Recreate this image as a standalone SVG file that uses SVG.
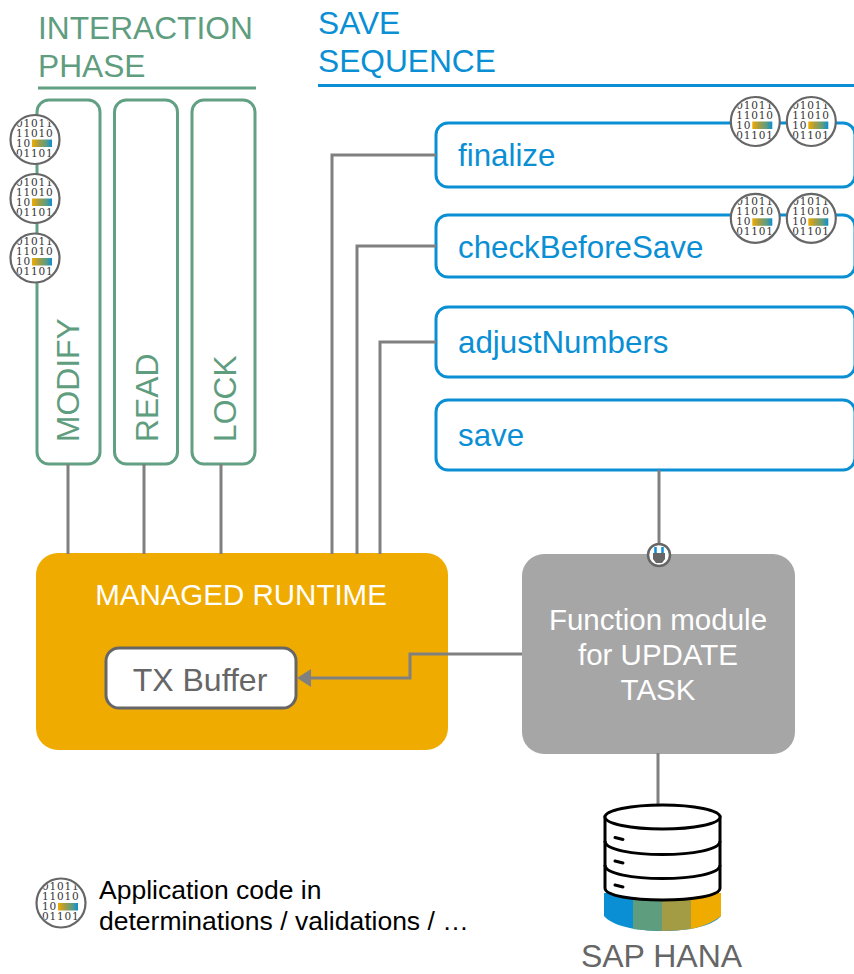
<svg xmlns="http://www.w3.org/2000/svg" width="854" height="974" viewBox="0 0 854 974">
<style>
text{font-family:"Liberation Sans",Arial,sans-serif}
.h{font-size:31.7px}
.g{fill:#5f9d7f}
.b{fill:#0a8fd4}
.phase{fill:#fff;stroke:#62a084;stroke-width:3}
.seq{fill:#fff;stroke:#0a8fd4;stroke-width:3}
.conn{fill:none;stroke:#808080;stroke-width:3}
.lbl{font-size:31.3px}
.rot{font-size:31.8px}
.w{fill:#fff;font-size:29.5px;text-anchor:middle}
.bits{font-family:"DejaVu Serif","Liberation Serif",serif;font-size:10.500px;letter-spacing:.8px;fill:#333}
</style>
<defs>
<linearGradient id="grad"><stop offset="0" stop-color="#f0ab00"/><stop offset=".35" stop-color="#a39c45"/><stop offset=".7" stop-color="#5f9d7f"/><stop offset="1" stop-color="#0a8fd4"/></linearGradient>
<clipPath id="cc"><circle r="23"/></clipPath>
<g id="bin">
<circle r="24.500" fill="#fff" stroke="#666" stroke-width="2.200"/>
<g clip-path="url(#cc)">
<text class="bits" x="-19" y="-13">01011</text>
<text class="bits" x="-19" y="-3">11010</text>
<text class="bits" x="-19" y="7">10</text>
<text class="bits" x="-19" y="17">01101</text>
</g>
<rect x="-3" y="0" width="20" height="7.500" fill="url(#grad)"/>
</g>
</defs>

<g id="title-interaction">
<text class="h g" x="38" y="39">INTERACTION</text>
<text class="h g" x="38" y="77">PHASE</text>
<path d="M38 88H256" stroke="#62a084" stroke-width="3"/>
</g>
<g id="title-save">
<text class="h b" x="318" y="34">SAVE</text>
<text class="h b" x="318" y="72">SEQUENCE</text>
<path d="M318 85.500H854" stroke="#0a8fd4" stroke-width="3"/>
</g>

<g id="modify"><rect class="phase" x="37" y="100" width="63" height="364" rx="12"/>
<text class="rot g" transform="translate(79,442) rotate(-90)">MODIFY</text></g>
<g id="read"><rect class="phase" x="114.500" y="100" width="63" height="364" rx="12"/>
<text class="rot g" transform="translate(158,442) rotate(-90)">READ</text></g>
<g id="lock"><rect class="phase" x="192" y="100" width="63" height="364" rx="12"/>
<text class="rot g" transform="translate(236,442) rotate(-90)">LOCK</text></g>

<g id="finalize"><rect class="seq" x="436" y="123" width="419" height="64" rx="12"/>
<text class="lbl b" x="458" y="166">finalize</text></g>
<g id="checkBeforeSave"><rect class="seq" x="436" y="215" width="419" height="62" rx="12"/>
<text class="lbl b" x="458" y="258">checkBeforeSave</text></g>
<g id="adjustNumbers"><rect class="seq" x="436" y="307" width="419" height="70" rx="12"/>
<text class="lbl b" x="458" y="353">adjustNumbers</text></g>
<g id="save"><rect class="seq" x="436" y="400" width="419" height="70" rx="12"/>
<text class="lbl b" x="458" y="446">save</text></g>

<g id="managed-runtime"><rect x="36" y="553" width="412" height="197" rx="22" fill="#f0ab00"/>
<text class="w" x="241" y="605">MANAGED RUNTIME</text></g>
<g id="tx-buffer"><rect x="106" y="648" width="190" height="60" rx="13" fill="#fff" stroke="#666" stroke-width="3"/>
<text x="200" y="691" font-size="32" fill="#666" text-anchor="middle">TX Buffer</text></g>

<g id="update-task"><rect x="522" y="554" width="273" height="200" rx="22" fill="#a6a6a6"/>
<text class="w" x="658" y="630">Function module</text>
<text class="w" x="658" y="665">for UPDATE</text>
<text class="w" x="658" y="700">TASK</text></g>

<g id="connectors">
<path class="conn" d="M68 464V554M144 464V554M221 464V554"/>
<path class="conn" d="M436 155H332V554M436 246H357V554M436 342H380V554"/>
<path class="conn" d="M659 470V548"/>
<path class="conn" d="M522 654H410V678H311"/>
<path class="conn" d="M658 753V806"/>
<path d="M297 678L311 669V687Z" fill="#808080"/>
</g>

<g id="plug">
<circle cx="659" cy="555" r="11" fill="#fff" stroke="#666" stroke-width="2.500"/>
<path d="M655.500 547v6M662.500 547v6" stroke="#0a8fd4" stroke-width="2.500"/>
<path d="M653 553h12v6l-3 4h-6l-3-4z" fill="#666"/>
</g>

<g id="badges">
<use href="#bin" x="35" y="139.500"/>
<use href="#bin" x="35" y="198.500"/>
<use href="#bin" x="35" y="258"/>
<use href="#bin" x="755.300" y="121.500"/>
<use href="#bin" x="811.300" y="121.500"/>
<use href="#bin" x="755.300" y="218.300"/>
<use href="#bin" x="811.300" y="218.300"/>
</g>

<g id="sap-hana">
<path d="M604 893V916C620 936 705 936 721 916V893Z" fill="#0a8fd4"/>
<path d="M633 893V929Q648 931 662 931V893Z" fill="#5f9d7f"/>
<path d="M662 893V931Q677 931 691 929V893Z" fill="#a39c45"/>
<path d="M691 893V929Q710 925 721 916V893Z" fill="#f0ab00"/>
<path d="M605 817V888C605 904 720 904 720 888V817Z" fill="#fff" stroke="#000" stroke-width="3"/>
<ellipse cx="662.500" cy="817" rx="57.500" ry="12" fill="#fff" stroke="#000" stroke-width="3"/>
<path d="M605 841C605 859 720 859 720 841M605 865C605 883 720 883 720 865" fill="none" stroke="#000" stroke-width="3"/>
<path d="M615 837.500l8 2M615 861l8 2M615 885l8 2" stroke="#000" stroke-width="3" stroke-linecap="round"/>
<text x="661.500" y="967" font-size="32" fill="#666" text-anchor="middle">SAP HANA</text>
</g>

<g id="legend">
<use href="#bin" x="61" y="903"/>
<text x="99" y="899" font-size="26.500" fill="#000">Application code in</text>
<text x="99" y="930" font-size="26.500" fill="#000">determinations / validations / …</text>
</g>
</svg>
